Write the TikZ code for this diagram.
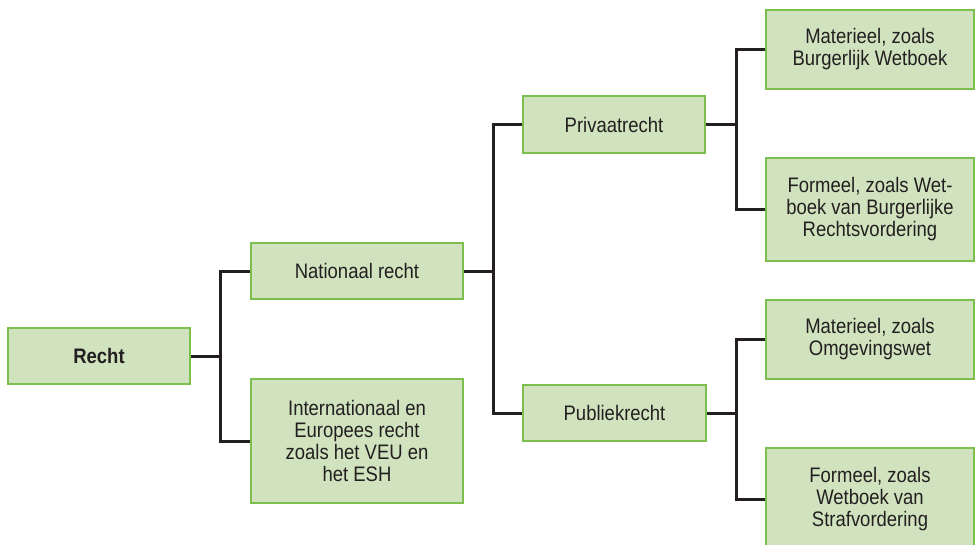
\documentclass[tikz,border=0pt]{standalone}
\usepackage{fontspec}
\setmainfont{Liberation Sans}[FakeStretch=0.88]
\definecolor{boxfill}{HTML}{D0E3BE}
\definecolor{boxline}{HTML}{7CBF4E}
\definecolor{ink}{HTML}{231F20}
\begin{document}
\begin{tikzpicture}[x=1pt,y=-1pt,
  box/.style={draw=boxline, fill=boxfill, line width=1.6pt, inner sep=0pt,
    align=center, text=ink, font=\fontsize{21}{22}\selectfont},
  conn/.style={draw=ink, line width=3pt, line join=miter}]
\useasboundingbox (0,0) rectangle (976,545);
\begin{scope}
\clip (0,0) rectangle (976,545);
\node[box, minimum width=182pt, minimum height=56pt, font=\fontsize{21}{22}\selectfont\bfseries] (recht) at (99,356) {Recht};
\node[box, minimum width=212pt, minimum height=56pt] (nat) at (357,271) {Nationaal recht};
\node[box, minimum width=212pt, minimum height=124pt] (int) at (357,441) {Internationaal en\\Europees recht\\zoals het VEU en\\het ESH};
\node[box, minimum width=182pt, minimum height=57pt] (priv) at (614,124.5) {Privaatrecht};
\node[box, minimum width=183pt, minimum height=56pt] (pub) at (614.5,413) {Publiekrecht};
\node[box, minimum width=208pt, minimum height=79pt] (mbw) at (870,49.5) {Materieel, zoals\\Burgerlijk Wetboek};
\node[box, minimum width=208pt, minimum height=103pt] (fbrv) at (870,209.5) {Formeel, zoals Wet-\\boek van Burgerlijke\\Rechtsvordering};
\node[box, minimum width=208pt, minimum height=79pt] (mow) at (870,339.5) {Materieel, zoals\\Omgevingswet};
\node[box, minimum width=208pt, minimum height=103pt] (fsv) at (870,499.5) {Formeel, zoals\\Wetboek van\\Strafvordering};
\end{scope}
\coordinate (j1) at (220,356);
\coordinate (j2) at (493,271);
\coordinate (j3) at (736,124.5);
\coordinate (j4) at (736,413);
\draw[conn] (recht.east) -- (j1);
\draw[conn] (nat.west) -| (j1) |- (int.west);
\draw[conn] (nat.east) -- (j2);
\draw[conn] (priv.west) -| (j2) |- (pub.west);
\draw[conn] (priv.east) -- (j3);
\draw[conn] (mbw.west) -| (j3) |- (fbrv.west);
\draw[conn] (pub.east) -- (j4);
\draw[conn] (mow.west) -| (j4) |- (fsv.west);
\end{tikzpicture}
\end{document}
